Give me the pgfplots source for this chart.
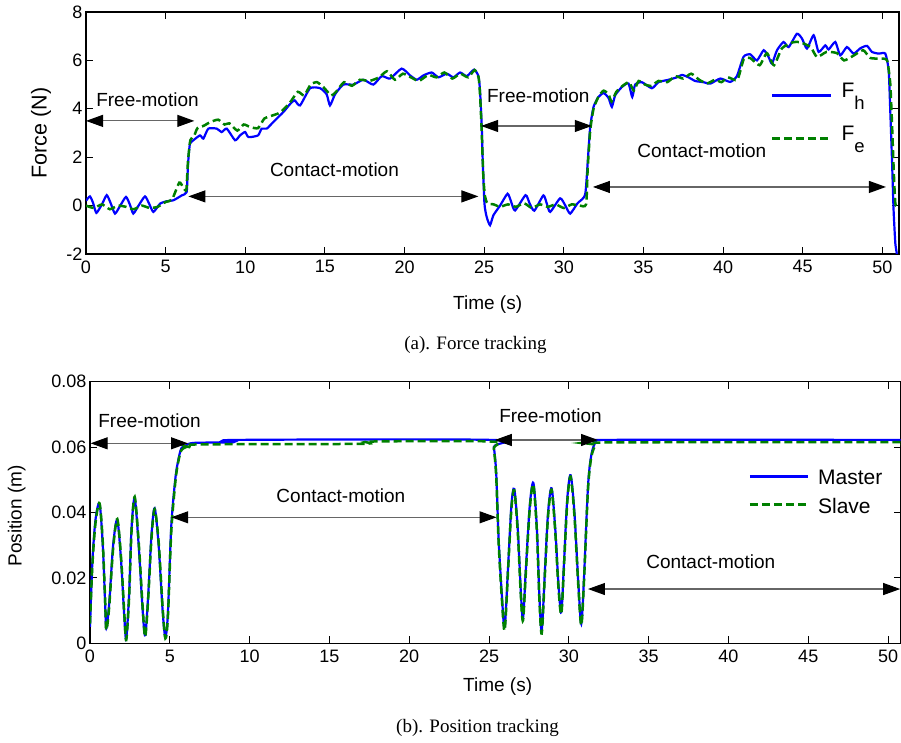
\documentclass[border=0pt]{standalone}
\usepackage{fontspec}
\setmainfont{Liberation Serif}
\newfontfamily\arial{Liberation Sans}
\usepackage{pgfplots}
\pgfplotsset{compat=1.18}
\usetikzlibrary{arrows.meta}

\definecolor{mblue}{RGB}{0,0,255}
\definecolor{mgreen}{RGB}{0,128,0}

\tikzset{
  span/.style={black!60, line width=1.1pt,
    {Triangle[length=17pt,width=12pt,black]}-{Triangle[length=17pt,width=12pt,black]}},
  note/.style={font=\arial\fontsize{19}{19}\selectfont, inner sep=0pt},
}

\pgfplotsset{
  mat/.style={
    scale only axis, xmin=0, xtick={0,5,...,50},
    tick pos=both, tick align=inside, major tick length=7pt,
    axis line style={line width=1.1pt},
    every tick/.style={black, line width=0.9pt},
    tick label style={font=\arial\fontsize{18}{18}\selectfont},
    xticklabel style={yshift=-3pt},
    /pgf/number format/assume math mode=true,
    scaled ticks=false,
    label style={font=\arial\fontsize{19}{19}\selectfont},
    clip mode=individual,
    legend cell align=left,
  },
  hline/.style={mblue, line width=2.2pt},
  eline/.style={mgreen, line width=2.5pt, dash pattern=on 8pt off 4pt},
}

\begin{document}
\begin{tikzpicture}
\path[use as bounding box] (0pt,0pt) rectangle (901pt,742pt);

% (a) force tracking
\begin{axis}[mat, at={(86pt,488pt)}, anchor=south west,
  width=813pt, height=242pt, xmax=51.05, ymin=-2, ymax=8,
  ytick={-2,0,...,8},
  xlabel={Time (s)}, ylabel={Force (N)},
  xlabel style={at={(axis description cs:0.494,-0.211)}, anchor=center},
  ylabel style={at={(axis description cs:-0.0554,0.5)}, anchor=center,
    font=\arial\fontsize{21.5}{21.5}\selectfont},
  legend style={draw=none, fill=none, at={(axis cs:43.0,3.83)}, anchor=west,
    inner sep=0pt, row sep=27pt, column sep=9pt, nodes={inner sep=0pt},
    font=\arial\fontsize{21}{21}\selectfont},
  legend image code/.code={\draw[#1] (0pt,-4pt) -- (59pt,-4pt);},
]
\addplot[hline, smooth, tension=0.35] coordinates {
(0,0.2)(0.25,0.38)(0.45,0.1)(0.65,-0.3)(1.0,0.05)(1.3,0.43)(1.55,0.1)(1.82,-0.33)(2.15,0.0)
(2.51,0.36)(2.75,0.05)(2.97,-0.33)(3.3,0.0)(3.7,0.38)(3.95,0.1)(4.23,-0.26)(4.65,0.08)(5.07,0.18)
(5.49,0.22)(6.01,0.42)(6.32,0.56)(6.39,1.5)(6.45,2.1)(6.53,2.56)(6.74,2.7)
(7.16,2.9)(7.37,2.77)(7.68,3.18)(8.21,3.18)(8.52,3.04)(8.84,3.18)(9.36,2.7)
(9.67,2.9)(9.99,3.04)(10.2,2.83)(10.8,2.9)(11.03,3.18)(11.35,3.18)(11.77,3.46)
(12.4,3.87)(12.82,4.2)(13.1,4.35)(13.44,4.14)(14.07,4.85)(14.7,4.85)(15.11,4.6)
(15.32,4.14)(15.64,4.6)(16.16,5.0)(16.79,5.0)(17.42,5.2)(18.04,5.0)(18.57,5.35)
(19.09,5.25)(19.82,5.66)(20.35,5.38)(20.77,5.2)(21.19,5.38)(21.71,5.5)(22.13,5.3)
(22.65,5.45)(23.07,5.3)(23.49,5.5)(23.91,5.35)(24.37,5.62)(24.64,5.35)(24.74,4.76)
(24.85,3.25)(24.91,1.87)(25.02,0.08)(25.16,-0.47)(25.37,-0.81)(25.58,-0.4)(26.0,0.0)
(26.47,0.49)(26.7,0.15)(26.94,-0.2)(27.6,0.43)(27.85,0.1)(28.15,-0.21)(28.72,0.42)(28.95,0.05)
(29.15,-0.26)(29.77,0.3)(30.1,0.0)(30.4,-0.33)(30.87,0.1)(31.34,0.45)(31.51,1.87)(31.66,3.25)
(31.87,4.08)(32.18,4.49)
(32.5,4.65)(32.81,4.45)(33.02,4.08)(33.23,4.56)(33.65,4.9)(34.06,5.05)(34.3,4.49)
(34.48,5.0)(34.9,5.1)(35.53,4.85)(35.95,5.1)(36.58,5.2)(37.1,5.3)(37.42,5.4)
(37.83,5.3)(38.25,5.15)(38.77,5.1)(39.2,5.04)(39.83,5.25)(40.45,5.11)(40.87,5.35)
(41.29,6.15)(41.71,6.25)(42.13,6.0)(42.55,6.42)(42.86,6.14)(43.07,5.87)(43.39,6.42)
(43.8,6.76)(44.12,6.55)(44.64,7.1)(44.96,6.9)(45.27,6.49)(45.69,7.04)(46.0,6.35)
(46.42,6.62)(46.63,6.45)(47.05,6.76)(47.36,6.21)(47.78,6.55)(48.2,6.28)(48.62,6.5)
(49.04,6.6)(49.35,6.35)(49.77,6.28)(50.19,6.28)(50.4,5.59)(50.5,3.94)(50.61,1.87)
(50.71,-0.2)(50.82,-1.57)(50.92,-2.05)(50.96,-3)
};
\addlegendentry{F\raisebox{-12pt}{\fontsize{18.5}{18.5}\selectfont h}}
\addplot[eline, smooth, tension=0.35] coordinates {
(0,0.0)(0.5,-0.1)(1.0,0.05)(1.5,-0.15)(2.0,0.0)(2.5,-0.05)(3.0,-0.15)(3.5,0.0)
(4.0,-0.1)(4.5,-0.05)(5.0,0.15)(5.4,0.25)(5.86,0.95)(6.1,0.75)(6.3,0.65)(6.4,1.8)
(6.55,2.7)(6.8,2.9)(7.0,3.2)(7.4,3.3)(7.8,3.45)(8.3,3.55)(8.7,3.35)(9.0,3.4)
(9.5,3.1)(9.9,3.35)(10.3,3.25)(10.8,3.2)(11.2,3.6)(11.6,3.7)(12.2,3.85)(12.8,4.25)
(13.3,4.7)(13.7,4.55)(14.1,5.0)(14.5,5.1)(14.9,4.9)(15.4,4.55)(15.7,4.7)(16.2,5.1)
(16.7,4.95)(17.2,5.2)(17.8,5.15)(18.4,5.3)(18.9,5.55)(19.4,5.2)(19.9,5.45)(20.4,5.3)
(20.9,5.15)(21.5,5.4)(22.0,5.3)(22.5,5.5)(23.0,5.25)(23.5,5.45)(24.0,5.3)(24.4,5.6)
(24.65,5.3)(24.75,4.5)(24.85,3.0)(24.95,1.2)(25.05,0.4)(25.2,0.1)(25.6,0.05)
(26.0,-0.05)(26.5,0.05)(27.0,-0.05)(27.5,0.1)(28.0,-0.1)(28.5,0.05)(29.0,-0.05)
(29.5,0.05)(30.0,-0.1)(30.5,0.05)(31.0,0.0)(31.4,0.05)(31.5,1.5)(31.66,3.1)
(31.87,4.0)(32.18,4.5)(32.5,4.75)(32.81,4.6)(33.0,4.3)(33.3,4.7)(33.7,4.95)
(34.1,5.1)(34.4,4.75)(34.7,5.15)(35.1,5.0)(35.5,4.95)(35.95,5.15)(36.5,5.1)
(37.0,5.35)(37.5,5.25)(38.0,5.45)(38.5,5.2)(39.0,5.05)(39.5,5.2)(39.9,5.1)
(40.3,5.3)(40.9,5.2)(41.3,6.05)(41.7,6.1)(42.3,5.8)(42.75,6.3)(43.2,5.8)(43.7,6.5)
(44.4,6.75)(44.85,6.75)(45.5,6.55)(45.9,6.14)(46.5,6.35)(47.15,6.3)(47.6,6.0)
(48.2,6.2)(48.8,6.42)(49.25,6.1)(49.9,6.07)(50.3,6.0)(50.5,5.04)(50.61,3.39)
(50.71,1.6)(50.82,0.08)(51.0,0.0)
};
\addlegendentry{F\raisebox{-12pt}{\fontsize{18.5}{18.5}\selectfont e}}

\node[note] at (axis cs:3.86,4.39) {Free-motion};
\draw[span] (axis cs:0,3.5) -- (axis cs:6.8,3.5);
\node[note] at (axis cs:15.6,1.49) {Contact-motion};
\draw[span] (axis cs:6.43,0.38) -- (axis cs:24.64,0.38);
\node[note] at (axis cs:28.4,4.52) {Free-motion};
\draw[span] (axis cs:24.81,3.29) -- (axis cs:31.76,3.29);
\node[note] at (axis cs:38.67,2.26) {Contact-motion};
\draw[span] (axis cs:31.83,0.77) -- (axis cs:50.23,0.77);
\end{axis}

% (b) position tracking
\begin{axis}[mat, at={(90pt,98.7pt)}, anchor=south west,
  width=810.5pt, height=261.6pt, xmax=50.78, ymin=0, ymax=0.08,
  ytick={0,0.02,0.04,0.06,0.08}, yticklabels={0,0.02,0.04,0.06,0.08},
  xlabel={Time (s)}, ylabel={Position (m)},
  xlabel style={at={(axis description cs:0.503,-0.166)}, anchor=center},
  ylabel style={at={(axis description cs:-0.0904,0.487)}, anchor=center},
  legend style={draw=none, fill=none, at={(axis cs:41.25,0.0461)}, anchor=west,
    inner sep=0pt, row sep=11.5pt, column sep=9pt, nodes={inner sep=0pt},
    font=\arial\fontsize{21}{21}\selectfont},
  legend image code/.code={\draw[#1] (0pt,2pt) -- (58pt,2pt);},
]
\addplot[hline, smooth] coordinates {
(0,0.005)(0.15,0.025)(0.35,0.038)(0.6,0.0426)(0.8,0.03)(0.95,0.012)(1.02,0.0046)
(1.2,0.012)(1.45,0.03)(1.71,0.0377)(1.95,0.025)(2.15,0.008)(2.27,0.0015)(2.45,0.015)
(2.6,0.035)(2.8,0.0443)(3.05,0.03)(3.3,0.01)(3.46,0.0025)(3.65,0.015)(3.85,0.033)
(4.05,0.0413)(4.3,0.03)(4.55,0.01)(4.72,0.002)(4.88,0.0091)(5.09,0.0357)(5.34,0.05)
(5.51,0.0555)(5.72,0.0596)(6.03,0.0606)(6.55,0.0613)(9.0,0.0615)(9.27,0.0622)
(25.15,0.0622)(25.3,0.060)(25.45,0.052)(25.6,0.032)(25.8,0.015)(25.98,0.005)
(26.2,0.024)(26.4,0.042)(26.58,0.0472)(26.8,0.035)(27.0,0.015)(27.13,0.0076)
(27.3,0.022)(27.55,0.042)(27.78,0.049)(28.0,0.035)(28.15,0.015)(28.3,0.004)
(28.5,0.022)(28.7,0.040)(28.92,0.0474)(29.15,0.035)(29.35,0.018)(29.53,0.0095)
(29.7,0.025)(29.9,0.044)(30.11,0.0514)(30.35,0.040)(30.6,0.018)(30.78,0.006)
(30.95,0.02)(31.2,0.0479)(31.41,0.0576)(31.68,0.0616)(32.03,0.0622)(50.78,0.0622)
};
\addlegendentry{Master}
\addplot[eline, smooth] coordinates {
(0,0.006)(0.15,0.024)(0.35,0.037)(0.6,0.0428)(0.8,0.031)(0.95,0.013)(1.02,0.004)
(1.2,0.011)(1.45,0.029)(1.71,0.038)(1.95,0.026)(2.15,0.009)(2.27,0.001)(2.45,0.014)
(2.6,0.034)(2.8,0.0448)(3.05,0.031)(3.3,0.011)(3.46,0.002)(3.65,0.014)(3.85,0.032)
(4.05,0.041)(4.3,0.031)(4.55,0.011)(4.72,0.0015)(4.88,0.008)(5.09,0.034)(5.34,0.049)
(5.51,0.055)(5.72,0.059)(6.03,0.060)(6.3,0.0599)(6.6,0.0608)(17.0,0.061)(17.6,0.0617)
(25.15,0.0617)(25.3,0.0595)(25.45,0.051)(25.6,0.031)(25.8,0.014)(25.98,0.004)
(26.2,0.023)(26.4,0.041)(26.58,0.0468)(26.8,0.034)(27.0,0.014)(27.13,0.007)
(27.3,0.021)(27.55,0.041)(27.78,0.0485)(28.0,0.034)(28.15,0.014)(28.3,0.003)
(28.5,0.021)(28.7,0.039)(28.92,0.047)(29.15,0.034)(29.35,0.017)(29.53,0.009)
(29.7,0.024)(29.9,0.043)(30.11,0.051)(30.35,0.039)(30.6,0.017)(30.78,0.0055)
(30.95,0.019)(31.2,0.047)(31.41,0.057)(31.68,0.0606)(32.03,0.0614)(50.6,0.0615)
(50.78,0.0606)
};
\addlegendentry{Slave}

\node[note] at (axis cs:3.73,0.0680) {Free-motion};
\draw[span] (axis cs:0.04,0.06116) -- (axis cs:6.14,0.06116);
\node[note] at (axis cs:15.72,0.04514) {Contact-motion};
\draw[span] (axis cs:5.09,0.03853) -- (axis cs:25.47,0.03853);
\node[note] at (axis cs:28.85,0.0695) {Free-motion};
\draw[span] (axis cs:25.36,0.06217) -- (axis cs:31.83,0.06217);
\node[note] at (axis cs:38.89,0.02495) {Contact-motion};
\draw[span] (axis cs:31.2,0.0166) -- (axis cs:50.76,0.0166);
\end{axis}

\node[font=\fontsize{19}{19}\selectfont] at (475.5pt,397pt) {(a). Force tracking};
\node[font=\fontsize{19}{19}\selectfont] at (477.5pt,14pt) {(b). Position tracking};
\end{tikzpicture}
\end{document}
